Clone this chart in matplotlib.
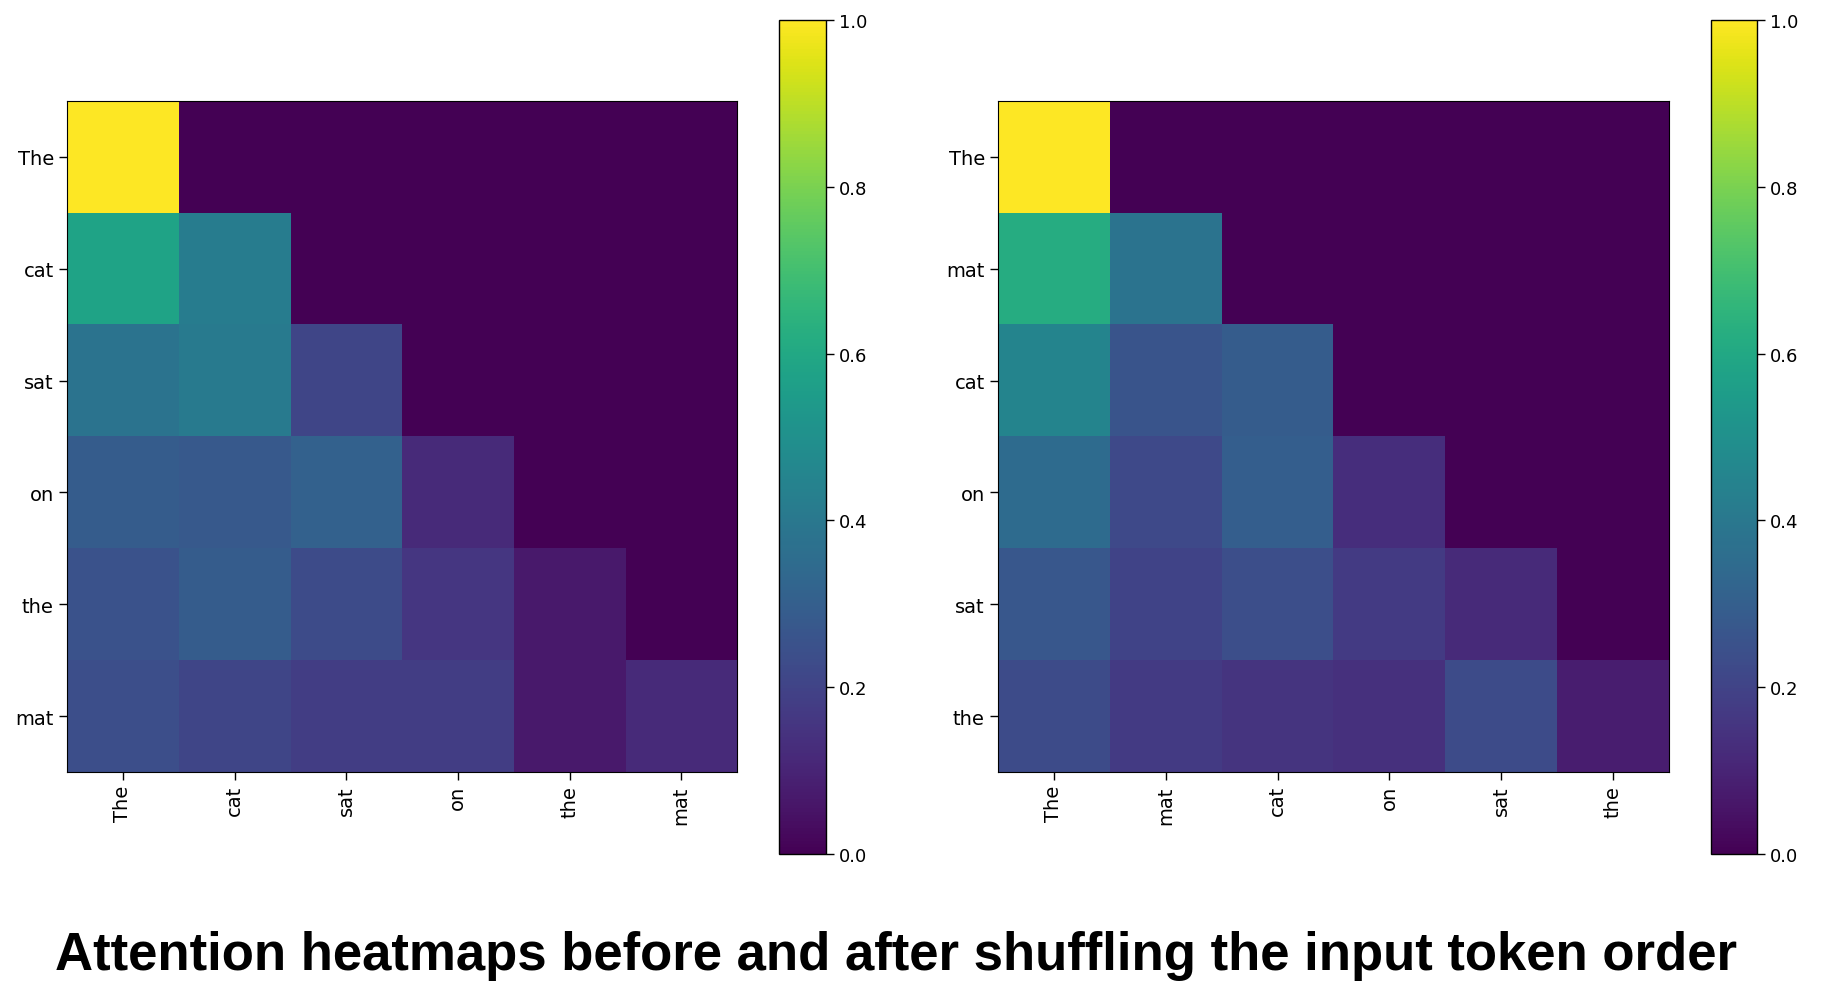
import numpy as np
import matplotlib
matplotlib.use("Agg")
import matplotlib.pyplot as plt

# 原始顺序与打乱后的顺序
tokens_before = ["The", "cat", "sat", "on", "the", "mat"]
tokens_after = ["The", "mat", "cat", "on", "sat", "the"]

# 注意力权重（下三角，每行和约为1）
attn_before = [
    [1.00, 0.00, 0.00, 0.00, 0.00, 0.00],
    [0.58, 0.42, 0.00, 0.00, 0.00, 0.00],
    [0.38, 0.41, 0.21, 0.00, 0.00, 0.00],
    [0.29, 0.28, 0.31, 0.12, 0.00, 0.00],
    [0.25, 0.29, 0.23, 0.16, 0.07, 0.00],
    [0.24, 0.21, 0.18, 0.18, 0.07, 0.12],
]
attn_after = [
    [1.00, 0.00, 0.00, 0.00, 0.00, 0.00],
    [0.62, 0.38, 0.00, 0.00, 0.00, 0.00],
    [0.45, 0.26, 0.29, 0.00, 0.00, 0.00],
    [0.35, 0.22, 0.30, 0.13, 0.00, 0.00],
    [0.27, 0.20, 0.24, 0.17, 0.12, 0.00],
    [0.23, 0.17, 0.15, 0.14, 0.23, 0.08],
]

W, H = 1834, 987
fig = plt.figure(figsize=(W / 100, H / 100), dpi=100)


def px(x0, y0, x1, y1):
    """像素坐标 -> figure 坐标"""
    return [x0 / W, 1 - y1 / H, (x1 - x0) / W, (y1 - y0) / H]


panels = [
    (attn_before, tokens_before, px(67, 102, 737, 773), px(779, 21, 826, 855)),
    (attn_after, tokens_after, px(998, 102, 1669, 773), px(1711, 21, 1757, 855)),
]

for data, labels, ax_rect, cb_rect in panels:
    ax = fig.add_axes(ax_rect)
    im = ax.imshow(np.array(data), cmap="viridis", vmin=0, vmax=1, aspect="auto")
    ax.set_xticks(range(len(labels)))
    ax.set_xticklabels(labels, rotation=90)
    ax.set_yticks(range(len(labels)))
    ax.set_yticklabels(labels)
    ax.tick_params(labelsize=14, length=6, width=1)
    cax = fig.add_axes(cb_rect)
    cb = fig.colorbar(im, cax=cax)
    cb.set_ticks([0.0, 0.2, 0.4, 0.6, 0.8, 1.0])
    cb.ax.tick_params(labelsize=13, length=6, width=1)
    cb.outline.set_linewidth(1)

fig.text(896 / W, 1 - 956 / H,
         "Attention heatmaps before and after shuffling the input token order",
         ha="center", va="center", fontsize=38, fontweight="bold",
         family=["Liberation Sans", "DejaVu Sans"])

fig.savefig("out.png", dpi=100, facecolor="white")
